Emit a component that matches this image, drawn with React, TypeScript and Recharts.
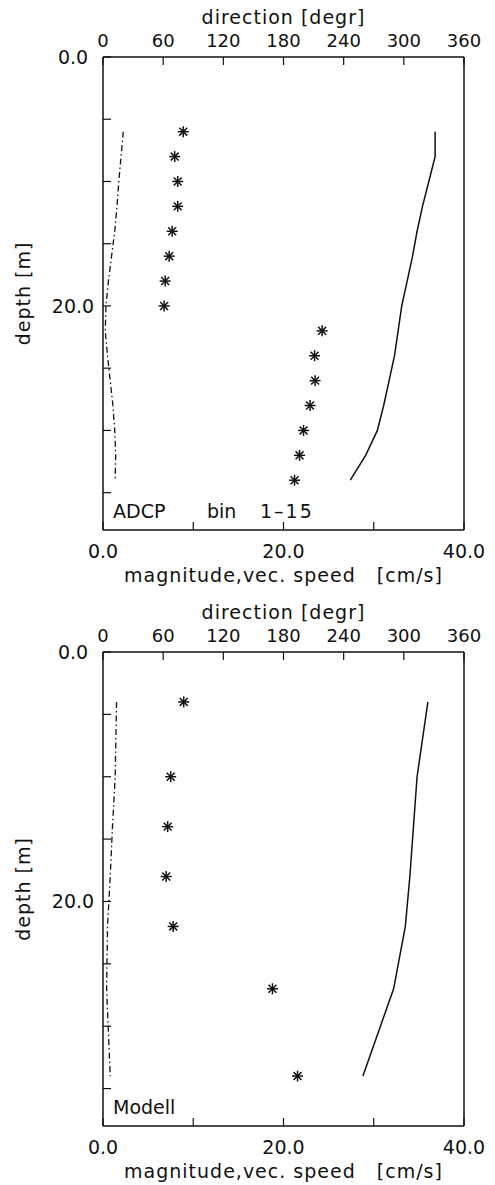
import React from "react"
import { ComposedChart, Scatter, XAxis, YAxis } from "recharts"

// ── data ─────────────────────────────────────────────────────────────────────

// ADCP, bins 1-15
const adcpDepth = [6, 8, 10, 12, 14, 16, 18, 20, 22, 24, 26, 28, 30, 32, 34]
const adcpDir = [80, 71.5, 74.5, 74.5, 69, 66, 62, 61, 218.5, 211, 211.5, 206.5, 200, 196, 191]
const adcpMag = [36.8, 36.8, 36.1, 35.4, 34.8, 34.3, 33.7, 33.1, 32.7, 32.3, 31.7, 31.1, 30.4, 29.1, 27.4]
const adcpVec = [2.25, 2.0, 1.75, 1.55, 1.3, 0.95, 0.6, 0.33, 0.25, 0.5, 0.8, 1.1, 1.3, 1.4, 1.35]

// Modell
const modelDepth = [4, 10, 14, 18, 22, 27, 34]
const modelDir = [80.5, 67.5, 64.5, 63, 70, 169, 194]
const modelMag = [36.0, 34.8, 34.4, 34.0, 33.5, 32.2, 28.8]
const modelVec = [1.5, 1.35, 1.05, 0.8, 0.5, 0.4, 0.8]

// axes
const depthTicks = [0, 5, 10, 15, 20, 25, 30, 35]
const depthLabels = [0, 20]
const speedTicks = [0, 10, 20, 30, 40]
const speedLabels = [0, 20, 40]
const dirTicks = [0, 60, 120, 180, 240, 300, 360]

const INK = "#111"
const FONT = "DejaVu Sans"
const TICK = 8

// ── tick renderers (inward ticks, IDL style labels) ──────────────────────────

function LeftTick(p: any) {
  const v = p.payload.value
  return (
    <g>
      <line x1={p.x} x2={p.x + TICK} y1={p.y} y2={p.y} stroke={INK} strokeWidth={1.2} />
      {depthLabels.includes(v) && (
        <text x={p.x - 30} y={p.y + 7} textAnchor="middle" fontSize={19} fontFamily={FONT} fill={INK}>
          {v.toFixed(1)}
        </text>
      )}
    </g>
  )
}

function RightTick(p: any) {
  return <line x1={p.x} x2={p.x - TICK} y1={p.y} y2={p.y} stroke={INK} strokeWidth={1.2} />
}

function BottomTick(p: any) {
  const v = p.payload.value
  return (
    <g>
      <line x1={p.x} x2={p.x} y1={p.y} y2={p.y - TICK} stroke={INK} strokeWidth={1.2} />
      {speedLabels.includes(v) && (
        <text x={p.x} y={p.y + 28} textAnchor="middle" fontSize={19} fontFamily={FONT} fill={INK}>
          {v.toFixed(1)}
        </text>
      )}
    </g>
  )
}

function TopTick(p: any) {
  const v = p.payload.value
  return (
    <g>
      <line x1={p.x} x2={p.x} y1={p.y} y2={p.y + TICK} stroke={INK} strokeWidth={1.2} />
      <text x={p.x} y={p.y - 10} textAnchor="middle" fontSize={18} fontFamily={FONT} fill={INK}>
        {v}
      </text>
    </g>
  )
}

function Asterisk(p: any) {
  const { cx, cy } = p
  const r = 5.5
  const d = r * 0.72
  return (
    <g stroke={INK} strokeWidth={1.5}>
      <line x1={cx - r} x2={cx + r} y1={cy} y2={cy} />
      <line x1={cx} x2={cx} y1={cy - r} y2={cy + r} />
      <line x1={cx - d} x2={cx + d} y1={cy - d} y2={cy + d} />
      <line x1={cx - d} x2={cx + d} y1={cy + d} y2={cy - d} />
    </g>
  )
}

const NoShape = () => <g />

const titleStyle = { fontSize: 19, fontFamily: FONT, fill: INK, letterSpacing: 1 }

// ── one profile panel ────────────────────────────────────────────────────────

function Profile({
  height, bottomH, depth, dir, mag, vec, note,
}: {
  height: number; bottomH: number; depth: number[]; dir: number[]; mag: number[]; vec: number[]; note: string[]
}) {
  const stars = depth.map((d, i) => ({ depth: d, dir: dir[i] }))
  const magLine = depth.map((d, i) => ({ depth: d, speed: mag[i] }))
  const vecLine = depth.map((d, i) => ({ depth: d, speed: vec[i] }))

  return (
    <ComposedChart width={495} height={height} margin={{ top: 0, right: 0, bottom: 0, left: 0 }}>
      <XAxis
        xAxisId="speed" dataKey="speed" type="number" orientation="bottom"
        domain={[0, 40]} ticks={speedTicks} interval={0} height={bottomH}
        tickSize={0} tickMargin={0} tickLine={false}
        axisLine={{ stroke: INK, strokeWidth: 1.5 }}
        tick={(p: any) => <BottomTick {...p} />}
        label={(lp: any) => {
          const vb = lp.viewBox
          return (
            <g>
              <text x={vb.x + vb.width / 2} y={vb.y + 52} textAnchor="middle" style={titleStyle}>
                {"magnitude,vec. speed\u00a0\u00a0\u00a0[cm/s]"}
              </text>
              {note.map((t, i) => (
                <text key={i} x={vb.x + [10, 104, 157][i]} y={vb.y - 12} fontSize={19} fontFamily={FONT} fill={INK}
                  letterSpacing={i === 2 ? 2 : 0}>
                  {t}
                </text>
              ))}
            </g>
          )
        }}
      />
      <XAxis
        xAxisId="dir" dataKey="dir" type="number" orientation="top"
        domain={[0, 360]} ticks={dirTicks} interval={0} height={57}
        tickSize={0} tickMargin={0} tickLine={false}
        axisLine={{ stroke: INK, strokeWidth: 1.5 }}
        tick={(p: any) => <TopTick {...p} />}
        label={(lp: any) => {
          const vb = lp.viewBox
          return (
            <text x={vb.x + vb.width / 2} y={vb.y + vb.height - 33} textAnchor="middle" style={titleStyle}>
              direction [degr]
            </text>
          )
        }}
      />
      <YAxis
        yAxisId="depth" dataKey="depth" type="number" orientation="left" reversed
        domain={[0, 38]} ticks={depthTicks} interval={0} width={103}
        tickSize={0} tickMargin={0} tickLine={false}
        axisLine={{ stroke: INK, strokeWidth: 1.5 }}
        tick={(p: any) => <LeftTick {...p} />}
        label={(lp: any) => {
          const vb = lp.viewBox
          const cy = vb.y + vb.height / 2
          return (
            <text x={30} y={cy} transform={`rotate(-90 30 ${cy})`} textAnchor="middle" style={titleStyle}>
              depth [m]
            </text>
          )
        }}
      />
      <YAxis
        yAxisId="r" type="number" orientation="right" reversed
        domain={[0, 38]} ticks={depthTicks} interval={0} width={31}
        tickSize={0} tickMargin={0} tickLine={false}
        axisLine={{ stroke: INK, strokeWidth: 1.5 }}
        tick={(p: any) => <RightTick {...p} />}
      />

      <Scatter
        data={vecLine} xAxisId="speed" yAxisId="depth"
        line={{ stroke: INK, strokeWidth: 1.3, strokeDasharray: "6 3 1.5 3" }}
        shape={NoShape} isAnimationActive={false}
      />
      <Scatter
        data={magLine} xAxisId="speed" yAxisId="depth"
        line={{ stroke: INK, strokeWidth: 1.5 }}
        shape={NoShape} isAnimationActive={false}
      />
      <Scatter
        data={stars} xAxisId="dir" yAxisId="depth"
        shape={(p: any) => <Asterisk {...p} />} isAnimationActive={false}
      />
    </ComposedChart>
  )
}

export default function App() {
  return (
    <div style={{ position: "absolute", left: 0, top: 0, width: 495, height: 1185, background: "#fff" }}>
      <Profile height={595} bottomH={65} depth={adcpDepth} dir={adcpDir} mag={adcpMag} vec={adcpVec}
        note={["ADCP", "bin", "1\u201315"]} />
      <Profile height={590} bottomH={59} depth={modelDepth} dir={modelDir} mag={modelMag} vec={modelVec}
        note={["Modell"]} />
    </div>
  )
}
